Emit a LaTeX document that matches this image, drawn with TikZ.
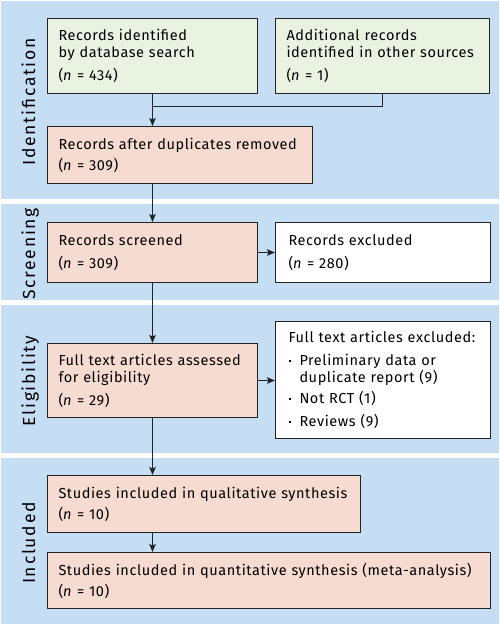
\documentclass[tikz,border=0pt]{standalone}
\usepackage{fontspec}
\setmainfont{Fira Sans}[LetterSpace=4]
\newfontfamily\bandfont{Fira Sans}[LetterSpace=10]
\usetikzlibrary{arrows.meta}

\definecolor{bandblue}{RGB}{197,222,244}
\definecolor{boxgreen}{RGB}{234,242,226}
\definecolor{boxpink}{RGB}{245,219,208}
\definecolor{linegray}{RGB}{35,35,35}

\newcommand{\bul}{\makebox[11pt][l]{\raisebox{3.5pt}{\rule{2pt}{2pt}}}}
\newcommand{\nval}[1]{(\textit{n} = #1)}

\tikzset{
  band/.style={fill=bandblue, draw=none},
  bandlabel/.style={rotate=90, anchor=base, font=\bandfont\fontsize{17.5}{19}\selectfont},
  flowbox/.style={draw=linegray, line width=1pt, anchor=north west, align=left,
    inner xsep=11pt, inner ysep=0pt, font=\fontsize{14.5}{17}\selectfont},
  seta/.style={-{Stealth[length=8pt,width=6.5pt,inset=1.5pt]}, line width=0.9pt, linegray},
}

\begin{document}
\begin{tikzpicture}[x=1pt, y=-1pt]
  \useasboundingbox (0,0) rectangle (500,625);
  % faixas das fases
  \foreach \ytop/\ybot/\nome/\rotulo in {
    1/199/ident/Identification, 204/300/screen/Screening,
    305/453/elig/Eligibility, 458/624/incl/Included}
  {
    \fill[band] (1,\ytop) rectangle (499,\ybot);
    \node[bandlabel] (lbl\nome) at (35,{(\ytop+\ybot)/2+2}) {\rotulo};
  }

  % caixas
  \node[flowbox, fill=boxgreen, text width=188pt, minimum height=75pt] (recdb) at (47,18)
    {Records identified\\by database search\\[6pt]\nval{434}};
  \node[flowbox, fill=boxgreen, text width=192pt, minimum height=75pt] (recoth) at (275,18)
    {Additional records\\identified in other sources\\[6pt]\nval{1}};
  \node[flowbox, fill=boxpink, text width=243pt, minimum height=57pt] (dedup) at (47,126)
    {Records after duplicates removed\\[4pt]\nval{309}};
  \node[flowbox, fill=boxpink, text width=188pt, minimum height=60pt] (screened) at (47,222)
    {Records screened\\[6pt]\nval{309}};
  \node[flowbox, fill=white, text width=189pt, minimum height=60pt, inner xsep=13pt] (excl) at (275,222)
    {Records excluded\\[6pt]\nval{280}};
  \node[flowbox, fill=boxpink, text width=188pt, minimum height=74pt] (fulltext) at (47,343)
    {Full text articles assessed\\for eligibility\\[6pt]\nval{29}};
  \node[flowbox, fill=white, text width=189pt, minimum height=117pt, inner xsep=13pt] (ftexcl) at (275,321)
    {Full text articles excluded:\\[6pt]
     \bul Preliminary data or\\
     \hspace*{11pt}duplicate report (9)\\[4pt]
     \bul Not RCT (1)\\[6pt]
     \bul Reviews (9)};
  \node[flowbox, fill=boxpink, text width=291pt, minimum height=57pt] (qual) at (47,475)
    {Studies included in qualitative synthesis\\[4pt]\nval{10}};
  \node[flowbox, fill=boxpink, text width=421pt, minimum height=56pt] (quant) at (47,552)
    {\mbox{Studies included in quantitative synthesis (meta-analysis)}\\[4pt]\nval{10}};

  % ligacoes
  \coordinate (juncao) at ([yshift=-12pt]recdb.south);
  \draw[line width=0.9pt, linegray] (recdb.south) -- (juncao);
  \draw[line width=0.9pt, linegray] (recoth.south) |- (juncao);
  \draw[seta] (juncao) -- (juncao |- dedup.north);
  \draw[seta] (dedup.south -| recdb.south) -- (screened.north);
  \draw[seta] (screened.east) -- (screened.east -| excl.west);
  \draw[seta] (screened.south) -- (fulltext.north);
  \draw[seta] (fulltext.east) -- (fulltext.east -| ftexcl.west);
  \draw[seta] (fulltext.south) -- (fulltext.south |- qual.north);
  \draw[seta] (qual.south -| fulltext.south) -- (fulltext.south |- quant.north);
\end{tikzpicture}
\end{document}
